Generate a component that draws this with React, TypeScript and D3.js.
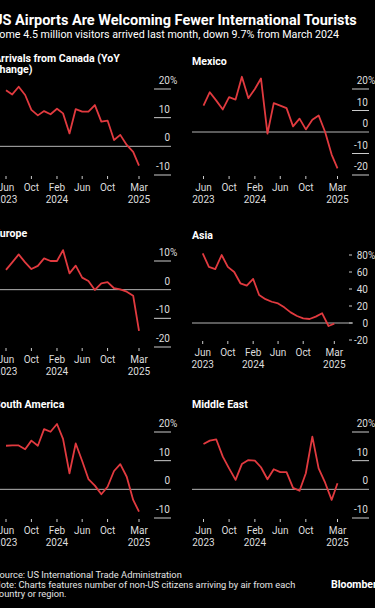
import React, { useEffect, useRef } from 'react';
import * as d3 from 'd3';

// monthly YoY change (%) per origin, Jun 2023 - Mar 2025
const months = [
  '2023-06', '2023-07', '2023-08', '2023-09', '2023-10', '2023-11', '2023-12',
  '2024-01', '2024-02', '2024-03', '2024-04', '2024-05', '2024-06', '2024-07',
  '2024-08', '2024-09', '2024-10', '2024-11', '2024-12', '2025-01', '2025-02', '2025-03'
];

const canada = [19.6, 18.1, 20.8, 17.9, 12.7, 10.8, 12.3, 11.2, 13.1, 11.5, 4.5, 13.0, 12.1, 12.1, 14.4, 8.6, 9.0, 2.2, 4.0, 0.5, -1.9, -6.7];
const mexico = [12.3, 18.5, 14.6, 10.5, 16.2, 15.1, 25.7, 15.7, 20.0, 24.9, -0.8, 13.4, 12.3, 11.1, 2.6, 6.2, 1.2, 5.7, 7.7, 0.0, -10.5, -16.9];
const europe = [6.9, 9.5, 12.3, 9.5, 7.2, 8.3, 10.9, 10.0, 10.0, 13.8, 5.7, 8.4, 4.2, 3.0, -0.1, 2.2, 2.6, 0.5, 0.1, -0.7, -2.1, -14.4];
const asia = [82, 66, 63.5, 80, 66, 60, 46.7, 44, 51.8, 33, 28, 25, 23, 18.4, 12.5, 8.2, 5.5, 4.7, 7.5, 11.4, -3.5, -0.8];
const southAmerica = [15.2, 15.3, 15.3, 14.0, 17.0, 15.2, 21.0, 20.1, 22.8, 17.6, 5.6, 16.0, 9.9, 3.6, 1.3, -1.7, 0.9, 6.4, 8.8, 4.4, -3.7, -7.8];
const middleEast = [15.8, 17.0, 17.4, 11.4, 7.3, 3.3, 8.8, 10.2, 10.0, 7.7, 3.5, 7.0, 6.0, 6.0, 0.5, -0.5, 5.6, 18.4, 7.3, 2.3, -3.7, 2.1];

const canadaTicks = [-10, 0, 10, 20];
const mexicoTicks = [-20, -10, 0, 10, 20];
const europeTicks = [-20, -10, 0, 10];
const asiaTicks = [-20, 0, 20, 40, 60, 80];
const southAmericaTicks = [-10, 0, 10, 20];
const middleEastTicks = [-10, 0, 10, 20];

const xTickDates = ['2023-06', '2023-10', '2024-02', '2024-06', '2024-10', '2025-03'];
const xTickMonths = ['Jun', 'Oct', 'Feb', 'Jun', 'Oct', 'Mar'];
const xTickYears = ['2023', '', '2024', '', '', '2025'];

const parse = d3.timeParse('%Y-%m');
const RED = '#e13a3f';
const FONT = 'Roboto, "Open Sans", sans-serif';

const panels = [
  { title: ['Arrivals from Canada (YoY', 'change)'], values: canada, ticks: canadaTicks,
    left: -6, xs: [6, 139], right: 170, ys: [175, 89], titleY: 57.5, dash: false },
  { title: ['Mexico'], values: mexico, ticks: mexicoTicks,
    left: 192, xs: [203.5, 337.5], right: 368, ys: [175, 89], titleY: 61, dash: false },
  { title: ['Europe'], values: europe, ticks: europeTicks,
    left: -6, xs: [6, 139], right: 170, ys: [347, 261], titleY: 233, dash: false },
  { title: ['Asia'], values: asia, ticks: asiaTicks,
    left: 192, xs: [202.7, 334.3], right: 368, ys: [340, 255], titleY: 235, dash: true },
  { title: ['South America'], values: southAmerica, ticks: southAmericaTicks,
    left: -6, xs: [6, 139], right: 170, ys: [518, 432], titleY: 404, dash: false },
  { title: ['Middle East'], values: middleEast, ticks: middleEastTicks,
    left: 192, xs: [203.5, 337.5], right: 368, ys: [518, 432], titleY: 404, dash: false },
];

export default function App() {
  const ref = useRef<SVGSVGElement>(null);

  useEffect(() => {
    const svg = d3.select(ref.current);
    svg.selectAll('*').remove();
    svg.append('rect').attr('width', 375).attr('height', 608).attr('fill', '#000');

    svg.append('text').attr('x', -7).attr('y', 25)
      .attr('fill', '#fff').attr('font-size', 14.5).attr('font-weight', 700)
      .attr('font-family', FONT)
      .text('US Airports Are Welcoming Fewer International Tourists');
    svg.append('text').attr('x', -7).attr('y', 37.5)
      .attr('fill', '#fff').attr('font-size', 10.7).attr('font-family', FONT)
      .text('Some 4.5 million visitors arrived last month, down 9.7% from March 2024');

    panels.forEach(p => {
      const g = svg.append('g');
      const x = d3.scaleTime()
        .domain([parse(months[0])!, parse(months[months.length - 1])!])
        .range(p.xs);
      const lo = d3.min(p.ticks)!, hi = d3.max(p.ticks)!;
      const y = d3.scaleLinear().domain([lo, hi]).range(p.ys);

      p.title.forEach((t, i) => {
        g.append('text').attr('x', p.left).attr('y', p.titleY + 4 + i * 11.5)
          .attr('fill', '#fff').attr('font-size', 10.6).attr('font-weight', 700)
          .attr('font-family', FONT).text(t);
      });

      // y ticks
      p.ticks.forEach((t, i) => {
        const ty = y(t);
        const label = g.append('text').attr('fill', '#ddd').attr('font-size', 10)
          .attr('font-family', FONT).attr('text-anchor', 'end');
        if (p.dash) {
          g.append('line').attr('x1', p.right - 19).attr('x2', p.right - 16)
            .attr('y1', ty).attr('y2', ty).attr('stroke', '#ccc').attr('stroke-width', 1);
          label.attr('x', p.right).attr('y', ty + 3.5).text(t);
          if (i === p.ticks.length - 1)
            g.append('text').attr('x', p.right).attr('y', ty + 3.5).attr('fill', '#ddd')
              .attr('font-size', 10).attr('font-family', FONT).text('%');
        } else {
          if (t !== 0)
            g.append('line').attr('x1', p.right - 16).attr('x2', p.right + 1)
              .attr('y1', ty).attr('y2', ty).attr('stroke', '#ccc').attr('stroke-width', 1);
          label.attr('x', p.right).attr('y', ty - 5).text(t);
          if (i === p.ticks.length - 1)
            g.append('text').attr('x', p.right).attr('y', ty - 5).attr('fill', '#ddd')
              .attr('font-size', 10).attr('font-family', FONT).text('%');
        }
      });

      // zero line
      g.append('line').attr('x1', p.left).attr('x2', p.dash ? p.right - 15 : p.right + 1)
        .attr('y1', y(0)).attr('y2', y(0)).attr('stroke', '#b5b5b5').attr('stroke-width', 1);

      // x ticks
      const base = p.ys[0];
      xTickDates.forEach((d, i) => {
        const tx = x(parse(d)!);
        g.append('line').attr('x1', tx).attr('x2', tx).attr('y1', base + 1).attr('y2', base + 4)
          .attr('stroke', '#ccc').attr('stroke-width', 1);
        g.append('text').attr('x', tx).attr('y', base + 16).attr('text-anchor', 'middle')
          .attr('fill', '#ddd').attr('font-size', 10).attr('font-family', FONT).text(xTickMonths[i]);
        if (xTickYears[i])
          g.append('text').attr('x', tx).attr('y', base + 28).attr('text-anchor', 'middle')
            .attr('fill', '#ddd').attr('font-size', 10).attr('font-family', FONT).text(xTickYears[i]);
      });

      const line = d3.line<number>()
        .x((_, i) => x(parse(months[i])!))
        .y(v => y(v));
      g.append('path').attr('d', line(p.values)).attr('fill', 'none')
        .attr('stroke', RED).attr('stroke-width', 1.8).attr('stroke-linejoin', 'round');
    });

    const foot = [
      'Source: US International Trade Administration',
      'Note: Charts features number of non-US citizens arriving by air from each',
      'country or region.',
    ];
    foot.forEach((t, i) => {
      svg.append('text').attr('x', -6).attr('y', 578 + i * 9.5).attr('fill', '#e5e5e5')
        .attr('font-size', 9.3).attr('font-family', FONT).text(t);
    });
    svg.append('text').attr('x', 331).attr('y', 588).attr('fill', '#fff')
      .attr('font-size', 10.5).attr('font-weight', 700).attr('font-family', FONT).text('Bloomberg');
  }, []);

  return (
    <div style={{ position: 'fixed', left: 0, top: 0 }}>
      <svg ref={ref} width={375} height={608} style={{ display: 'block' }} />
    </div>
  );
}
